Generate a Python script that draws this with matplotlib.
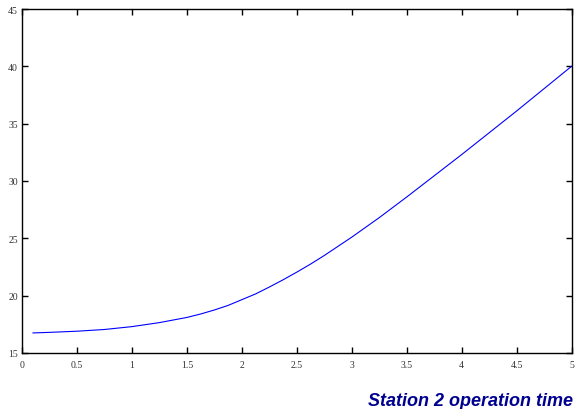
import matplotlib
matplotlib.use("Agg")
import matplotlib.pyplot as plt

# Operation time of station 2
x_vals = [0.1, 0.25, 0.5, 0.75, 1.0, 1.25, 1.5, 1.625, 1.75, 1.875, 2.0, 2.125,
          2.25, 2.375, 2.5, 2.625, 2.75, 2.875, 3.0, 3.25, 3.5, 3.75, 4.0,
          4.25, 4.5, 4.75, 5.0]
y_vals = [16.75, 16.8, 16.9, 17.05, 17.3, 17.65, 18.1, 18.4, 18.75, 19.15, 19.65, 20.15,
          20.75, 21.38, 22.05, 22.75, 23.5, 24.3, 25.1, 26.8, 28.6, 30.45, 32.3,
          34.2, 36.1, 38.05, 40.0]
x_ticks = [0, 0.5, 1, 1.5, 2, 2.5, 3, 3.5, 4, 4.5, 5]
x_tick_labels = ["0", "0.5", "1", "1.5", "2", "2.5", "3", "3.5", "4", "4.5", "5"]
y_ticks = [15, 20, 25, 30, 35, 40, 45]
y_tick_labels = ["15", "20", "25", "30", "35", "40", "45"]
title = "Station 2 operation time"

fig = plt.figure(figsize=(5.75, 4.1), dpi=100)
ax = fig.add_axes([22 / 575, 56 / 410, 549.5 / 575, 344 / 410])

ax.plot(x_vals, y_vals, color="#0000ff", linewidth=0.8)

ax.set_xlim(0, 5)
ax.set_ylim(15, 45)
ax.set_xticks(x_ticks)
ax.set_xticklabels(x_tick_labels)
ax.set_yticks(y_ticks)
ax.set_yticklabels(y_tick_labels)

ax.tick_params(direction="in", length=4, width=1, top=True, right=True,
               labelsize=7, colors="black", labelcolor="#333333")
ax.tick_params(axis="x", pad=5)
ax.tick_params(axis="y", pad=3)
for lab in ax.get_xticklabels() + ax.get_yticklabels():
    lab.set_fontfamily("Liberation Serif")
for sp in ax.spines.values():
    sp.set_linewidth(1)
    sp.set_color("black")

fig.text(572.5 / 575, 1 - 406.5 / 410, title, ha="right", va="baseline",
         fontsize=13, fontweight="bold", fontstyle="italic",
         fontfamily="Liberation Sans", color="#000090")

fig.savefig("out.png", dpi=100)
